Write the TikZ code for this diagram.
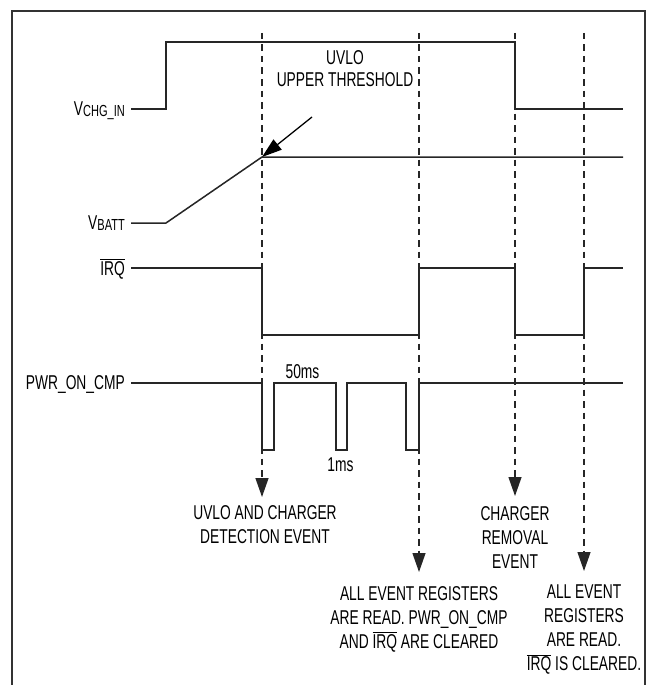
\documentclass[tikz,border=0pt]{standalone}
\usepackage{fontspec}
\setmainfont{Liberation Sans}[FakeStretch=0.69]
\usetikzlibrary{arrows.meta,positioning,calc}

\begin{document}
\begin{tikzpicture}[x=1pt, y=-1pt,
  font=\fontsize{20}{24}\selectfont,
  frame/.style = {line width=1.8pt, black!80},
  sig/.style   = {line width=1.5pt, black!85},
  tline/.style = {line width=1.3pt, black!85, dash pattern=on 6.5pt off 5pt,
                  -{Triangle[length=19pt, width=13pt]}},
  ptr/.style   = {line width=1.3pt, -{Triangle[length=20pt, width=13pt]}},
  lbl/.style   = {anchor=base east, inner sep=0pt},
  evt/.style   = {align=center, anchor=north, inner sep=0pt}]
\newcommand{\nbar}[1]{\vbox{\hrule height 0.9pt \kern 1.3pt \hbox{#1}}}
\newcommand{\sbs}[1]{\raisebox{-1.2pt}{\fontsize{16}{16}\selectfont #1}}

\useasboundingbox (0,0) rectangle (651,685);
\draw[frame] (12,685) -- (12,11) -- (645,11) -- (645,685);

\node[lbl] (vchg) at (125,115.5) {V\sbs{CHG\_IN}};
\node[lbl] (vbat) at (125,229.5) {V\sbs{BATT}};
\node[lbl] (irq)  at (125,275) {\nbar{IRQ}};
\node[lbl] (pwr)  at (125,389.5) {PWR\_ON\_CMP};

\node[align=center, inner sep=0pt, anchor=base,
      font=\fontsize{20}{21}\selectfont] (uvlo) at (345,86)
  {UVLO\\ UPPER THRESHOLD};

\coordinate (d1) at (262,33);
\coordinate (d2) at (419,33);
\coordinate (d3) at (515,33);
\coordinate (d4) at (584,33);

\draw[sig] (131,109) -| (166,42) -| (515,109) -- (623,109);
\draw[sig] (131,223) -- (166,223) -- (262,157) coordinate (vbk) -- (623,157);
\draw[sig] (131,268) -| (262,335) -| (419,268) -| (515,335) -| (584,268) -- (623,268);
\draw[sig] (131,383) -| (262,450) -| (274,383) -| (336,450) -| (347,383)
  -| (406,450) -| (419,383) -- (623,383);

\coordinate (thr) at (312,117);
\draw[ptr] (thr) -- (vbk);

\node[inner sep=0pt, anchor=base] (t50) at (302.5,378) {50ms};
\node[inner sep=0pt, anchor=base] (t1)  at (340.5,471) {1ms};

\node[evt] (ev1) at (265,505) {UVLO AND CHARGER\\ DETECTION EVENT};
\node[evt] (ev2) at (419,586) {ALL EVENT REGISTERS\\ ARE READ. PWR\_ON\_CMP\\ AND \nbar{IRQ} ARE CLEARED};
\node[evt] (ev3) at (515,506) {CHARGER\\ REMOVAL\\ EVENT};
\node[evt] (ev4) at (584,585) {ALL EVENT\\ REGISTERS\\ ARE READ.\\ \nbar{IRQ} IS CLEARED.};

\draw[tline, shorten >=8pt]  (d1) -- (d1 |- ev1.north);
\draw[tline, shorten >=14pt] (d2) -- (ev2.north);
\draw[tline, shorten >=10pt] (d3) -- (ev3.north);
\draw[tline, shorten >=14pt] (d4) -- (ev4.north);
\end{tikzpicture}
\end{document}
